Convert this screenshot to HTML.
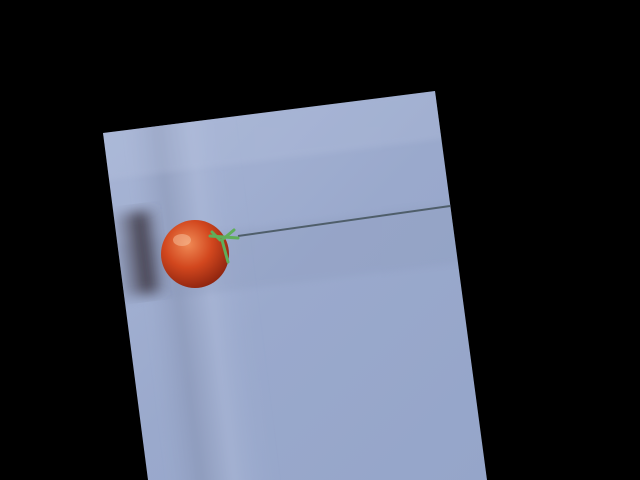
<!DOCTYPE html>
<html><head><meta charset="utf-8"><style>
html,body{margin:0;padding:0;background:#000;width:640px;height:480px;overflow:hidden}
</style></head><body>
<svg width="640" height="480" viewBox="0 0 640 480">
<defs>
<linearGradient id="panel" x1="0" y1="0" x2="1" y2="1">
<stop offset="0" stop-color="#a9b6d6"/><stop offset="0.5" stop-color="#9aa9cc"/><stop offset="1" stop-color="#95a5c9"/>
</linearGradient>
<linearGradient id="vband" x1="0" y1="0" x2="1" y2="0">
<stop offset="0" stop-color="#8f9cbd" stop-opacity="0"/><stop offset="0.3" stop-color="#7f8aa8" stop-opacity="0.4"/><stop offset="0.6" stop-color="#b3bfdc" stop-opacity="0.4"/><stop offset="1" stop-color="#9aa9cc" stop-opacity="0"/>
</linearGradient>
<linearGradient id="dark" x1="0" y1="0" x2="1" y2="0">
<stop offset="0" stop-color="#6d7086" stop-opacity="0.2"/><stop offset="0.6" stop-color="#3a3440"/><stop offset="1" stop-color="#5e5f74" stop-opacity="0"/>
</linearGradient>
<radialGradient id="tom" cx="0.4" cy="0.35" r="0.7">
<stop offset="0" stop-color="#f08a55"/><stop offset="0.5" stop-color="#d2471e"/><stop offset="1" stop-color="#8a220e"/>
</radialGradient>
<filter id="blur"><feGaussianBlur stdDeviation="6"/></filter>
<filter id="blur2"><feGaussianBlur stdDeviation="3"/></filter>
<clipPath id="clip"><polygon points="103,133 435,91 487,480 148,480"/></clipPath>
</defs>
<polygon points="103,133 435,91 487,480 148,480" fill="url(#panel)"/>
<g clip-path="url(#clip)">
<rect x="140" y="90" width="110" height="400" fill="url(#vband)" filter="url(#blur2)" transform="rotate(-7 195 254)"/>
<rect x="100" y="235" width="400" height="60" fill="#8794b6" opacity="0.2" filter="url(#blur2)" transform="rotate(-7 195 254)"/>
<rect x="118" y="212" width="45" height="82" fill="url(#dark)" filter="url(#blur)" transform="rotate(-7 140 254)"/>
<rect x="100" y="120" width="400" height="50" fill="#b9c4e0" opacity="0.25" filter="url(#blur2)" transform="rotate(-7 195 254)"/>
</g>
<line x1="238" y1="236" x2="450" y2="206" stroke="#4f5e6a" stroke-width="2"/>
<circle cx="195" cy="254" r="34" fill="url(#tom)"/>
<ellipse cx="182" cy="240" rx="9" ry="6" fill="#f7c3a0" opacity="0.5"/>
<path d="M210 236 L238 238 M222 240 L228 262 M220 240 L212 232 M222 240 L234 230" stroke="#5fae5a" stroke-width="3" stroke-linecap="round" fill="none"/>
</svg>
</body></html>
